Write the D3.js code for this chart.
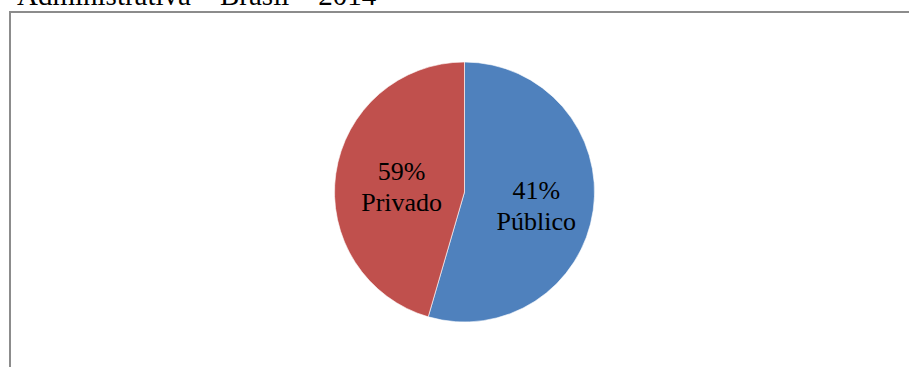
<!DOCTYPE html>
<html>
<head>
<meta charset="utf-8">
<script src="https://cdn.jsdelivr.net/npm/d3@7"></script>
<style>
  body { margin: 0; background: #fff; }
  svg text { font-family: "Liberation Serif", "Times New Roman", serif; fill: #000; }
</style>
</head>
<body>
<div id="main"></div>
<script>
const ctx = {
    SVG_W: 909,
    SVG_H: 367,
};

// slices as drawn in the picture (clockwise from 12 o'clock)
const categories = ["Público", "Privado"];
const sliceValues = [54.5, 45.5];
// percentages written in the labels
const labelPercents = ["41%", "59%"];
const colors = ["#4F81BD", "#C0504D"];
const titleText = "Administrativa – Brasil – 2014";

function createViz() {
    let svgEl = d3.select("#main").append("svg")
        .attr("width", ctx.SVG_W)
        .attr("height", ctx.SVG_H);

    // title, mostly cut off at the top
    svgEl.append("text")
        .attr("x", 17)
        .attr("y", 5)
        .style("font-size", "29px")
        .text(titleText);

    // chart frame
    svgEl.append("rect")
        .attr("x", 10)
        .attr("y", 12)
        .attr("width", 920)
        .attr("height", 400)
        .style("fill", "none")
        .style("stroke", "#8c8c8c")
        .style("stroke-width", 2);

    const cx = 464.5, cy = 192, r = 130;
    const pie = d3.pie().sort(null).value(d => d);
    const arcs = pie(sliceValues);
    const arc = d3.arc().innerRadius(0).outerRadius(r);
    const labelArc = d3.arc().innerRadius(68).outerRadius(68);

    let g = svgEl.append("g").attr("transform", `translate(${cx},${cy})`);

    g.selectAll(".slice")
        .data(arcs)
        .enter().append("path")
        .attr("class", "slice")
        .attr("d", arc)
        .style("fill", (d, i) => colors[i])
        .style("stroke", "#fff")
        .style("stroke-width", 0.6);

    let labels = g.selectAll(".lbl")
        .data(arcs)
        .enter().append("text")
        .attr("class", "lbl")
        .attr("text-anchor", "middle")
        .style("font-size", "26px")
        .attr("transform", d => {
            const c = labelArc.centroid(d);
            return `translate(${c[0] + 4.5},${c[1] + 4.5})`;
        });
    labels.append("tspan").attr("x", 0).attr("y", -7).text((d, i) => labelPercents[i]);
    labels.append("tspan").attr("x", 0).attr("y", 24).text((d, i) => categories[i]);
}

createViz();
</script>
</body>
</html>
